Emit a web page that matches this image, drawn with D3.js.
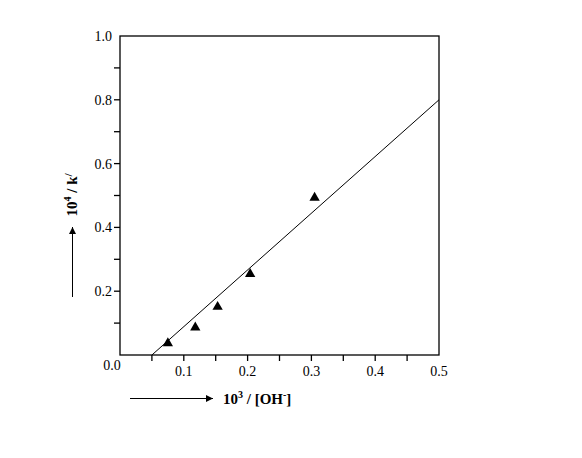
<!DOCTYPE html>
<html><head><meta charset="utf-8">
<script src="https://cdn.jsdelivr.net/npm/d3@7"></script>
<style>
html,body{margin:0;padding:0;background:#fff;}
text{font-family:"Liberation Serif","Times New Roman",serif;}
</style></head>
<body>
<svg id="chart" width="582" height="458"></svg>
<script>
// Data
const xValues = [0.075, 0.118, 0.153, 0.204, 0.305];
const yValues = [0.037, 0.086, 0.151, 0.254, 0.493];
const fitX = [0.05, 0.5];
const fitY = [0.0, 0.8];
const xTicks = [0.05,0.1,0.15,0.2,0.25,0.3,0.35,0.4,0.45];
const xTickLabels = ["0.1","0.2","0.3","0.4","0.5"];
const yTicks = [0.1,0.2,0.3,0.4,0.5,0.6,0.7,0.8,0.9];
const yTickLabels = ["0.2","0.4","0.6","0.8","1.0"];

const svg = d3.select("#chart");
const L = 120, R = 439, T = 36, B = 355;
const x = d3.scaleLinear().domain([0, 0.5]).range([L, R]);
const y = d3.scaleLinear().domain([0, 1.0]).range([B, T]);

// frame
svg.append("rect").attr("x", L).attr("y", T).attr("width", R - L).attr("height", B - T)
  .attr("fill", "none").attr("stroke", "#000").attr("stroke-width", 1.3);

// ticks
svg.append("g").selectAll("line").data(xTicks).join("line")
  .attr("x1", d => x(d)).attr("x2", d => x(d)).attr("y1", B).attr("y2", B + 6)
  .attr("stroke", "#000").attr("stroke-width", 1.3);
svg.append("g").selectAll("line").data(yTicks).join("line")
  .attr("y1", d => y(d)).attr("y2", d => y(d)).attr("x1", L - 6).attr("x2", L)
  .attr("stroke", "#000").attr("stroke-width", 1.3);

// tick labels
svg.append("g").selectAll("text").data(xTickLabels).join("text")
  .attr("x", d => x(+d)).attr("y", 376).attr("text-anchor", "middle")
  .attr("font-size", 14).text(d => d);
svg.append("g").selectAll("text").data(yTickLabels).join("text")
  .attr("x", 112).attr("y", d => y(+d) + 5).attr("text-anchor", "end")
  .attr("font-size", 14).text(d => d);
svg.append("text").attr("x", 112).attr("y", 370).attr("text-anchor", "middle")
  .attr("font-size", 14).text("0.0");

// fit line
svg.append("line")
  .attr("x1", x(fitX[0])).attr("y1", y(fitY[0]))
  .attr("x2", x(fitX[1])).attr("y2", y(fitY[1]))
  .attr("stroke", "#000").attr("stroke-width", 1);

// points
const tri = d3.symbol().type(d3.symbolTriangle).size(46);
svg.append("g").selectAll("path").data(xValues.map((v, i) => [v, yValues[i]])).join("path")
  .attr("d", tri).attr("transform", d => `translate(${x(d[0])},${y(d[1])})`)
  .attr("fill", "#000");

// arrows
const defs = svg.append("defs");
defs.append("marker").attr("id", "ah").attr("viewBox", "0 0 10 10")
  .attr("refX", 10).attr("refY", 5).attr("markerWidth", 9).attr("markerHeight", 7)
  .attr("markerUnits", "userSpaceOnUse").attr("orient", "auto")
  .append("path").attr("d", "M0,0 L10,5 L0,10 Z").attr("fill", "#000");

svg.append("line").attr("x1", 130).attr("y1", 398.5).attr("x2", 213).attr("y2", 398.5)
  .attr("stroke", "#000").attr("stroke-width", 1).attr("marker-end", "url(#ah)");
svg.append("line").attr("x1", 72.5).attr("y1", 297).attr("x2", 72.5).attr("y2", 227)
  .attr("stroke", "#000").attr("stroke-width", 1).attr("marker-end", "url(#ah)");

// axis titles
const xt = svg.append("text").attr("x", 223).attr("y", 404)
  .attr("font-size", 15).attr("font-weight", "bold");
xt.append("tspan").text("10");
xt.append("tspan").attr("dy", -6).attr("font-size", 10).text("3");
xt.append("tspan").attr("dy", 6).text(" / [OH");
xt.append("tspan").attr("dy", -6).attr("font-size", 10).text("-");
xt.append("tspan").attr("dy", 6).text("]");

const yt = svg.append("text").attr("transform", "translate(77,195) rotate(-90)")
  .attr("text-anchor", "middle").attr("font-size", 15).attr("font-weight", "bold");
yt.append("tspan").text("10");
yt.append("tspan").attr("dy", -6).attr("font-size", 10).text("4");
yt.append("tspan").attr("dy", 6).text(" / k");
yt.append("tspan").attr("dy", -5).attr("font-size", 11).text("/");
</script>
</body></html>
